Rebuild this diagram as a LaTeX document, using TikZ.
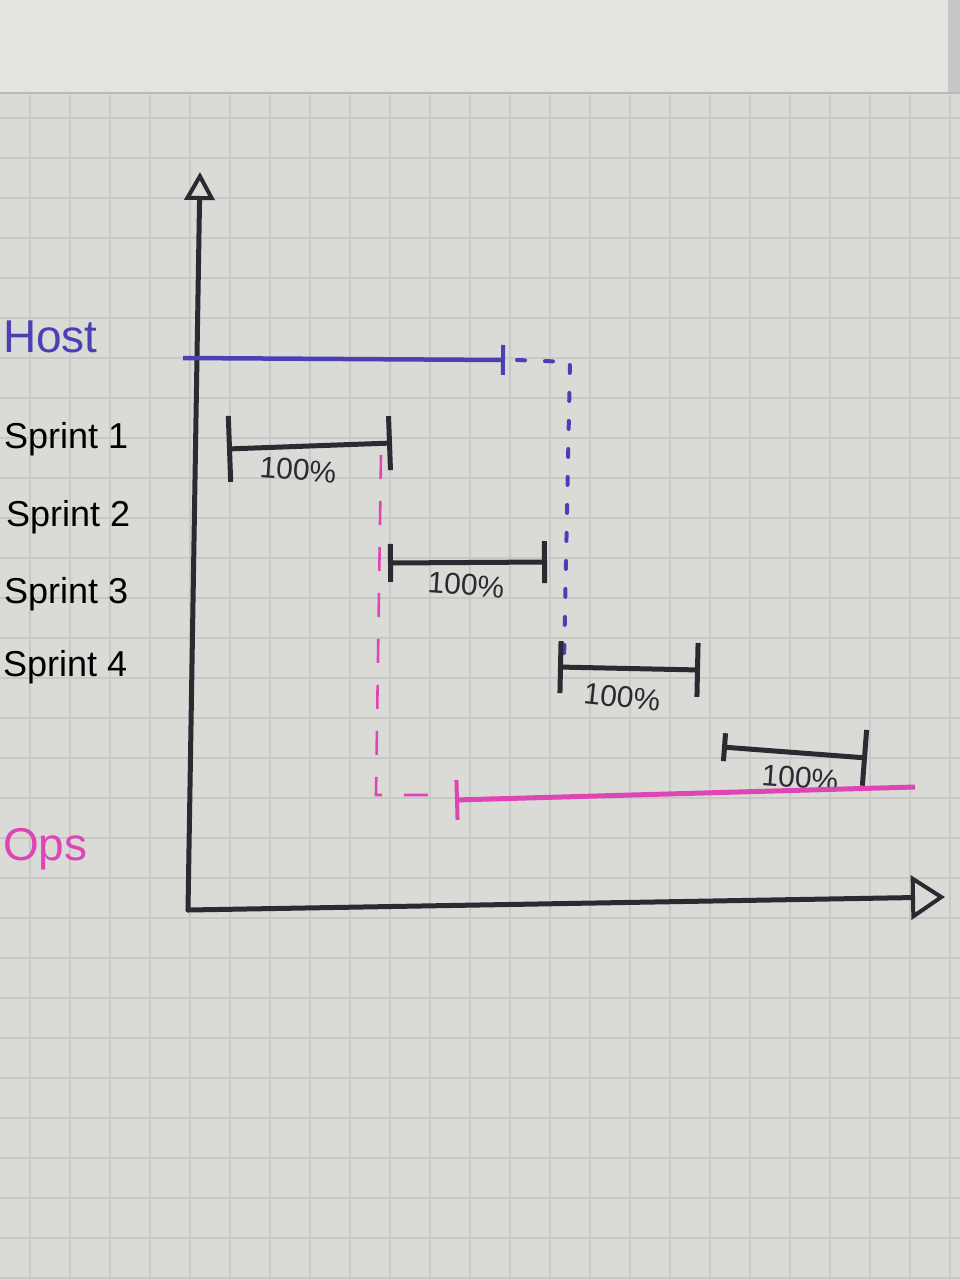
\documentclass[tikz,border=0pt]{standalone}
\usepackage{fontspec}
\setmainfont{Liberation Sans}
\usetikzlibrary{arrows.meta}
\definecolor{paper}{HTML}{DADAD6}
\definecolor{flap}{HTML}{E4E4DF}
\definecolor{gridc}{HTML}{C8C8C6}
\definecolor{ink}{HTML}{2B2A33}
\definecolor{hostblue}{HTML}{4B3FB5}
\definecolor{opspink}{HTML}{DE45B5}
\begin{document}
\begin{tikzpicture}[x=1pt,y=-1pt,
  axis/.style={draw=ink, line width=5pt, line cap=round, line join=round},
  bar/.style={draw=ink, line width=5pt},
  hostline/.style={draw=hostblue, line width=4.5pt},
  hostdash/.style={draw=hostblue, line width=4pt, line cap=round, dash pattern=on 8pt off 20pt},
  opsline/.style={draw=opspink, line width=5pt},
  opsdash/.style={draw=opspink, line width=2.6pt, dash pattern=on 24pt off 22pt},
  pct/.style={text=ink, font=\fontsize{30}{32}\selectfont, inner sep=0pt},
  lbl/.style={font=\fontsize{36}{40}\selectfont, inner sep=0pt, anchor=base west},
]
\useasboundingbox (0,0) rectangle (960,1280);
\clip (0,0) rectangle (960,1280);
% paper and grid
\fill[paper] (0,0) rectangle (960,1280);
\foreach \gx in {-10,30,...,950} \draw[gridc, line width=1.2pt] (\gx,95) -- (\gx,1280);
\foreach \gy in {118,158,...,1278} \draw[gridc, line width=1.2pt] (0,\gy) -- (960,\gy);
\fill[flap] (0,0) rectangle (960,92);
\draw[gray!55, line width=2pt] (0,93) -- (960,93);
\fill[gray!45] (948,0) rectangle (960,92);

% axes
\coordinate (o) at (188,910);
\coordinate (ytop) at (200,172);
\coordinate (xend) at (945,897);
\draw[axis, -{Triangle[open, length=28pt, width=30pt, line width=4pt]}] (o) -- (ytop);
\draw[axis, -{Triangle[open, length=34pt, width=44pt, line width=4pt]}] (o) -- (xend);

% labels
\node[lbl, text=hostblue, font=\fontsize{46}{50}\selectfont] (host) at (3,352) {Host};
\node[lbl] (sp1) at (4,448) {Sprint 1};
\node[lbl] (sp2) at (6,526) {Sprint 2};
\node[lbl] (sp3) at (4,603) {Sprint 3};
\node[lbl] (sp4) at (3,676) {Sprint 4};
\node[lbl, text=opspink, font=\fontsize{46}{50}\selectfont] (ops) at (3,860) {Ops};

% host
\coordinate (h0) at (183,358);
\coordinate (h1) at (505,360);
\coordinate (h2) at (570,362);
\coordinate (h3) at (564,662);
\draw[hostline, -{Bar[width=30pt, line width=4pt]}] (h0) -- (h1);
\draw[hostdash] ([xshift=12pt]h1) -- (h2) -- (h3);

% sprints
\coordinate (s1a) at (227,449);
\coordinate (s1b) at (392,443);
\coordinate (s2a) at (388,563);
\coordinate (s2b) at (547,562);
\coordinate (s3a) at (558,667);
\coordinate (s3b) at (700,670);
\coordinate (s4a) at (722,747);
\coordinate (s4b) at (867,758);
\draw[bar, {Bar[width=66pt]}-{Bar[width=54pt]}] (s1a) -- (s1b);
\draw[bar, {Bar[width=38pt]}-{Bar[width=42pt]}] (s2a) -- (s2b);
\draw[bar, {Bar[width=52pt]}-{Bar[width=54pt]}] (s3a) -- (s3b);
\draw[bar, {Bar[width=28pt]}-{Bar[width=56pt]}] (s4a) -- (s4b);
\node[pct, rotate=-4] (p1) at (298,470) {100\%};
\node[pct, rotate=-4] (p2) at (466,585) {100\%};
\node[pct, rotate=-6] (p3) at (622,697) {100\%};
\node[pct, rotate=-4] (p4) at (800,778) {100\%};

% ops
\coordinate (o1) at (381,455);
\coordinate (o2) at (376,795);
\coordinate (o3) at (448,795);
\coordinate (o4) at (455,800);
\coordinate (o5) at (915,787);
\draw[opsdash] (o1) -- (o2) -- (o3);
\draw[opsline, {Bar[width=40pt, line width=4pt]}-] (o4) -- (o5);
\end{tikzpicture}
\end{document}
